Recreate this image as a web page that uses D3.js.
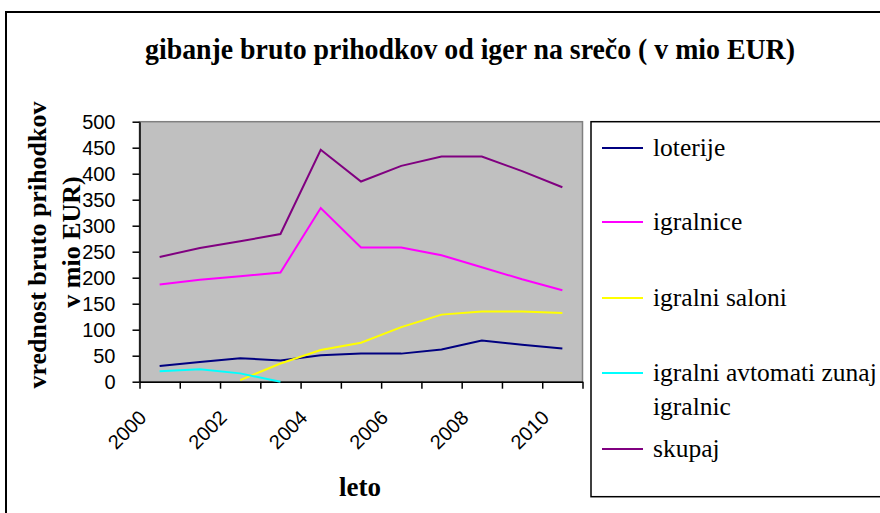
<!DOCTYPE html>
<html>
<head>
<meta charset="utf-8">
<script src="https://cdn.jsdelivr.net/npm/d3@7"></script>
<style>
  body { margin: 0; background: #fff; }
  svg { display: block; }
</style>
</head>
<body>
<div id="viz"></div>
<script>
const years = [2000, 2001, 2002, 2003, 2004, 2005, 2006, 2007, 2008, 2009, 2010];
const loterije = [30, 38, 45, 41, 51, 54, 54, 62, 79, 71, 64];
const igralnice = [187, 196, 203, 210, 334, 258, 258, 243, 220, 197, 176];
const igralniSaloni = [null, null, 3, 35, 61, 75, 105, 129, 135, 135, 132];
const avtomati = [20, 24, 16, 0, null, null, null, null, null, null, null];
const skupaj = [240, 257, 270, 284, 446, 385, 415, 433, 433, 405, 374];
const yTicks = [0, 50, 100, 150, 200, 250, 300, 350, 400, 450, 500];
const labelYears = [2000, 2002, 2004, 2006, 2008, 2010];

const series = [
  {name: "loterije", values: loterije, color: "#000080"},
  {name: "igralnice", values: igralnice, color: "#FF00FF"},
  {name: "igralni saloni", values: igralniSaloni, color: "#FFFF00"},
  {name: ["igralni avtomati zunaj", "igralnic"], values: avtomati, color: "#00FFFF"},
  {name: "skupaj", values: skupaj, color: "#800080"}
];

const serif = "'Liberation Serif', 'Times New Roman', serif";
const sans = "'Liberation Sans', Arial, sans-serif";

const W = 880, H = 513;
const plot = {left: 139.5, right: 582.5, top: 121.7, bottom: 381.7};

const svg = d3.select("#viz").append("svg")
  .attr("width", W)
  .attr("height", H);

// outer chart frame (right and bottom run off the picture)
svg.append("rect")
  .attr("x", 6).attr("y", 12)
  .attr("width", W + 20).attr("height", H + 20)
  .attr("fill", "#fff")
  .attr("stroke", "#000")
  .attr("stroke-width", 2);

const x = d3.scaleBand()
  .domain(years)
  .range([plot.left, plot.right])
  .padding(0);

const xEdge = d3.scaleLinear()
  .domain([0, years.length])
  .range([plot.left, plot.right]);

const y = d3.scaleLinear()
  .domain([0, 500])
  .range([plot.bottom, plot.top]);

// plot area
svg.append("rect")
  .attr("x", plot.left)
  .attr("y", plot.top)
  .attr("width", plot.right - plot.left)
  .attr("height", plot.bottom - plot.top)
  .attr("fill", "#C0C0C0")
  .attr("stroke", "#808080")
  .attr("stroke-width", 1.5);

// y axis
const yAxis = svg.append("g")
  .attr("transform", `translate(${plot.left},0)`)
  .call(d3.axisLeft(y).tickValues(yTicks).tickSize(7).tickPadding(17).tickSizeOuter(0));
yAxis.select(".domain").attr("stroke", "#000").attr("stroke-width", 1.5);
yAxis.selectAll(".tick line").attr("stroke", "#000").attr("stroke-width", 1.5);
yAxis.selectAll("text")
  .attr("fill", "#000")
  .style("font-family", sans)
  .style("font-size", "20px");

// x axis: ticks between categories
const xAxis = svg.append("g")
  .attr("transform", `translate(0,${plot.bottom})`)
  .call(d3.axisBottom(xEdge).tickValues(d3.range(years.length + 1)).tickSize(7).tickFormat("").tickSizeOuter(0));
xAxis.select(".domain").attr("stroke", "#000").attr("stroke-width", 1.5);
xAxis.selectAll(".tick line").attr("stroke", "#000").attr("stroke-width", 1.5);

svg.append("g")
  .selectAll("text")
  .data(labelYears)
  .join("text")
    .attr("transform", d => `translate(${x(d) + x.bandwidth() / 2 - 12},419) rotate(-45)`)
    .attr("text-anchor", "end")
    .style("font-family", sans)
    .style("font-size", "20px")
    .text(d => d);

// lines
const line = d3.line()
  .defined(d => d.v !== null)
  .x(d => x(d.year) + x.bandwidth() / 2)
  .y(d => y(d.v));

svg.append("g")
  .selectAll("path")
  .data(series)
  .join("path")
    .attr("fill", "none")
    .attr("stroke", d => d.color)
    .attr("stroke-width", 2)
    .attr("d", d => line(years.map((yr, i) => ({year: yr, v: d.values[i]}))));

// title
svg.append("text")
  .attr("x", 470)
  .attr("y", 59)
  .attr("text-anchor", "middle")
  .attr("textLength", 650)
  .attr("lengthAdjust", "spacingAndGlyphs")
  .style("font-family", serif)
  .style("font-weight", "bold")
  .style("font-size", "29px")
  .text("gibanje bruto prihodkov od iger na srečo ( v mio EUR)");

// y axis title
const yTitle = svg.append("g")
  .style("font-family", serif)
  .style("font-weight", "bold")
  .style("font-size", "26px");
yTitle.append("text")
  .attr("transform", "translate(46,245) rotate(-90)")
  .attr("text-anchor", "middle")
  .text("vrednost bruto prihodkov");
yTitle.append("text")
  .attr("transform", "translate(80,242) rotate(-90)")
  .attr("text-anchor", "middle")
  .text("v mio EUR)");

// x axis title
svg.append("text")
  .attr("x", 360)
  .attr("y", 496)
  .attr("text-anchor", "middle")
  .style("font-family", serif)
  .style("font-weight", "bold")
  .style("font-size", "27px")
  .text("leto");

// legend
svg.append("rect")
  .attr("x", 591)
  .attr("y", 121.7)
  .attr("width", 320)
  .attr("height", 375)
  .attr("fill", "#fff")
  .attr("stroke", "#000")
  .attr("stroke-width", 1.5);

const legendY = [148, 222, 298, 373, 449];
const legend = svg.append("g");

series.forEach((s, i) => {
  legend.append("line")
    .attr("x1", 602).attr("x2", 643)
    .attr("y1", legendY[i]).attr("y2", legendY[i])
    .attr("stroke", s.color)
    .attr("stroke-width", 2);
  const lines = Array.isArray(s.name) ? s.name : [s.name];
  const t = legend.append("text")
    .attr("x", 653)
    .attr("y", legendY[i] + 7.5)
    .style("font-family", serif)
    .style("font-size", "25.5px");
  lines.forEach((ln, j) => {
    t.append("tspan")
      .attr("x", 653)
      .attr("dy", j === 0 ? 0 : 34)
      .text(ln);
  });
});
</script>
</body>
</html>
